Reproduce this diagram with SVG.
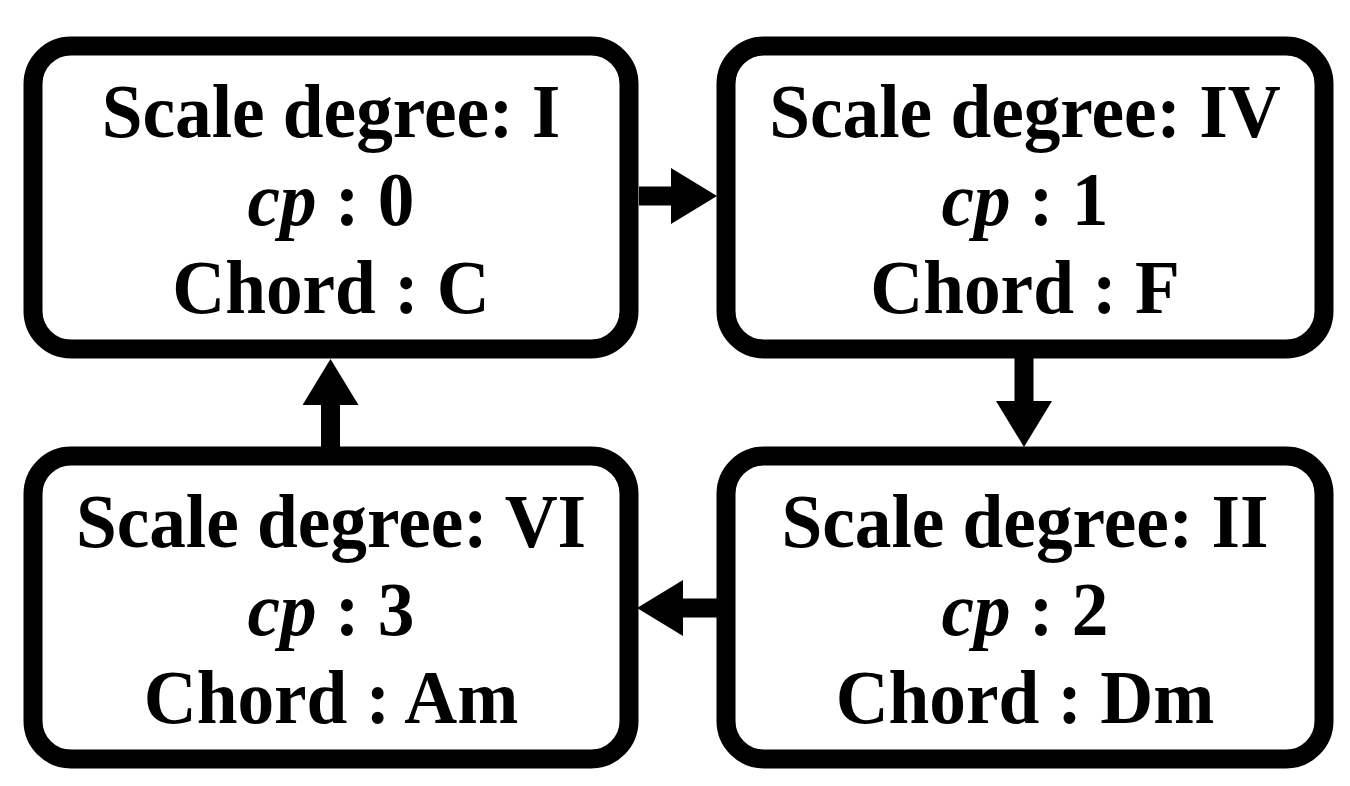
<svg xmlns="http://www.w3.org/2000/svg" width="1350" height="786" viewBox="0 0 1350 786">
<style>
.box{fill:#fff;stroke:#000;stroke-width:19}
.t{font-family:"Liberation Serif","Times New Roman",serif;font-weight:bold;font-size:77px;fill:#000;text-anchor:middle}
.i{font-style:italic}
.c{stroke:#000;stroke-width:19;fill:none}
</style>
<defs>
<marker id="ah" viewBox="0 0 46 56" refX="0" refY="28" markerWidth="46" markerHeight="56" markerUnits="userSpaceOnUse" orient="auto">
<path d="M0,0 L46,28 L0,56 z" fill="#000"/>
</marker>
</defs>
<rect width="1350" height="786" fill="#fff"/>
<g id="connectors">
<line class="c" x1="639" y1="196" x2="671" y2="196" marker-end="url(#ah)"/>
<line class="c" x1="1024" y1="358" x2="1024" y2="401" marker-end="url(#ah)"/>
<line class="c" x1="717" y1="608" x2="683" y2="608" marker-end="url(#ah)"/>
<line class="c" x1="330.5" y1="447" x2="330.5" y2="405" marker-end="url(#ah)"/>
</g>
<g id="node-I">
<rect class="box" x="33" y="46" width="596" height="303" rx="38"/>
<g transform="translate(331,0) scale(0.952,1)">
<text class="t" x="0" y="137">Scale degree: I</text>
<text class="t" x="0" y="225"><tspan class="i">cp</tspan> : 0</text>
<text class="t" x="0" y="313">Chord : C</text>
</g>
</g>
<g id="node-IV">
<rect class="box" x="726" y="46" width="598" height="303" rx="38"/>
<g transform="translate(1025,0) scale(0.952,1)">
<text class="t" x="0" y="137">Scale degree: IV</text>
<text class="t" x="0" y="225"><tspan class="i">cp</tspan> : 1</text>
<text class="t" x="0" y="313">Chord : F</text>
</g>
</g>
<g id="node-II">
<rect class="box" x="726" y="456" width="598" height="303" rx="38"/>
<g transform="translate(1025,0) scale(0.952,1)">
<text class="t" x="0" y="547">Scale degree: II</text>
<text class="t" x="0" y="635"><tspan class="i">cp</tspan> : 2</text>
<text class="t" x="0" y="723">Chord : Dm</text>
</g>
</g>
<g id="node-VI">
<rect class="box" x="33" y="456" width="596" height="303" rx="38"/>
<g transform="translate(331,0) scale(0.952,1)">
<text class="t" x="0" y="547">Scale degree: VI</text>
<text class="t" x="0" y="635"><tspan class="i">cp</tspan> : 3</text>
<text class="t" x="0" y="723">Chord : Am</text>
</g>
</g>
</svg>
